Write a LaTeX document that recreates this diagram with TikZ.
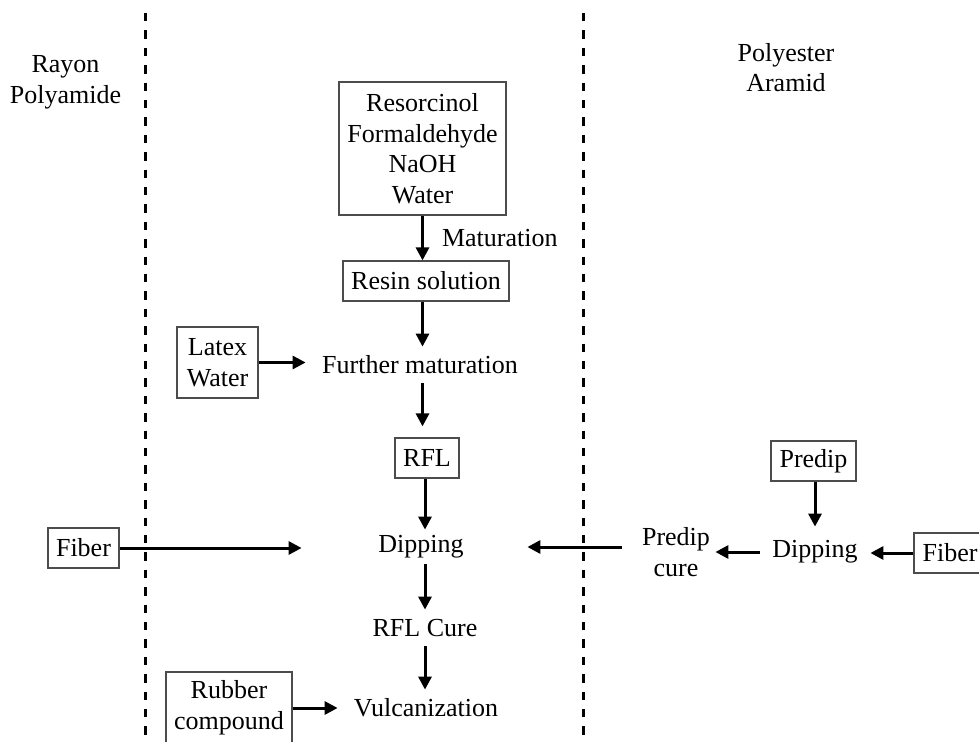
\documentclass[tikz,border=0pt]{standalone}
\usepackage{fontspec}
\setmainfont{Liberation Serif}
\usetikzlibrary{arrows.meta}
\tikzset{
  boxnode/.style={draw=black!70, line width=0.6pt, inner sep=0pt, align=center},
  lbl/.style={inner sep=0pt, align=center},
  arr/.style={-{Triangle[length=6.5pt,width=6.5pt]}, line width=1.5pt},
  divider/.style={line width=1.5pt, dash pattern=on 4.2pt off 4.5pt}
}
\begin{document}
\begin{tikzpicture}[x=0.5pt, y=-0.5pt, font=\fontsize{13}{15.3}\selectfont]
\useasboundingbox (0,0) rectangle (979,742);
% dividers
\draw[divider] (145,13) -- (145,742);
\draw[divider] (583,13) -- (583,742);
% headings
\node[lbl] (rayon) at (65.5,82.5) {Rayon\\Polyamide};
\node[lbl] (poly) at (786,67.5) {Polyester\\Aramid};
% centre column
\node[boxnode, minimum width=83.5pt, minimum height=66.5pt] (rcf) at (422.5,148.5) {Resorcinol\\Formaldehyde\\NaOH\\Water};
\node[boxnode, minimum width=83pt, minimum height=20pt] (resin) at (426,281) {Resin solution};
\node[lbl, minimum width=114pt, minimum height=18pt] (fm) at (420,365) {Further maturation};
\node[boxnode, minimum width=40.5pt, minimum height=35.5pt] (lw) at (217.5,362.5) {Latex\\Water};
\node[boxnode, minimum width=32pt, minimum height=20pt] (rfl) at (427,458) {RFL};
\node[lbl, minimum width=119pt, minimum height=20.5pt] (dip) at (421,547) {Dipping};
\node[boxnode, minimum width=35.5pt, minimum height=20pt] (fibL) at (83.5,548) {Fiber};
\node[lbl, minimum height=18pt] (cure) at (425,628) {RFL Cure};
\node[lbl, minimum width=88pt, minimum height=18pt] (vul) at (426,708) {Vulcanization};
\node[boxnode, minimum width=63pt, minimum height=36pt] (rub) at (229,708) {Rubber\\compound};
% right column
\node[boxnode, minimum width=42.5pt, minimum height=20pt] (predip) at (813.5,461) {Predip};
\node[lbl, minimum width=55pt, minimum height=25pt] (dipR) at (815,552) {Dipping};
\node[boxnode, minimum width=36pt, minimum height=20pt] (fibR) at (950,553) {Fiber};
\node[lbl, minimum width=39pt] (pcure) at (676,552) {Predip\\cure};
% connectors
\draw[arr] (rcf.south) -- node[lbl, right=9pt] (mat) {Maturation} (rcf.south |- resin.north);
\draw[arr] (rcf.south |- resin.south) -- (rcf.south |- fm.north);
\draw[arr] (lw.east) -- (lw.east -| fm.west);
\draw[arr, shorten >=5.5pt] (rcf.south |- fm.south) -- (rcf.south |- rfl.north);
\draw[arr, shorten >=-1.75pt] (rfl.south -| cure.north) -- (cure.north |- dip.north);
\draw[arr, shorten <=-1.75pt] (cure.north |- dip.south) -- (cure.north);
\draw[arr] (cure.south) -- (cure.south |- vul.north);
\draw[arr] (rub.east) -- (rub.east -| vul.west);
\draw[arr] (fibL.east) -- (fibL.east -| dip.west);
\draw[arr, shorten <=7.5pt, shorten >=-6.5pt] (dip.east -| pcure.west) -- (dip.east);
\draw[arr] (dipR.north |- predip.south) -- (dipR.north);
\draw[arr] (fibR.west) -- (fibR.west -| dipR.east);
\draw[arr] (dipR.west) -- (dipR.west -| pcure.east);
\end{tikzpicture}
\end{document}
